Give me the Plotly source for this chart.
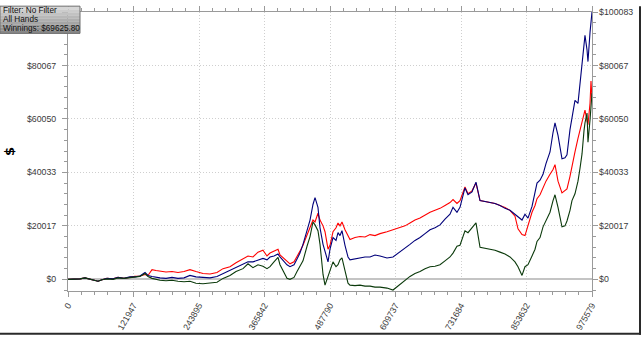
import plotly.graph_objects as go

# Cumulative results by hand number
hands = [0, 13000, 22300, 31700, 41000, 50300, 55900, 63300, 72600, 83800,
         93100, 104300, 115400, 124700, 134000, 143400, 148900, 156400, 163800, 171300,
         182500, 193600, 204800, 216000, 227100, 238300, 251300, 264400, 277400, 288600,
         301600, 312800, 325800, 335100, 344400, 353700, 363000, 370500, 376100, 383500,
         391000, 394700, 400300, 407700, 413300, 420800, 426400, 431900, 437500, 445000,
         450600, 456100, 459900, 465400, 469200, 474800, 478500, 484100, 487800, 493400,
         499000, 502700, 506400, 510100, 515700, 521300, 525000, 534300, 543600, 553000,
         562300, 571600, 580900, 593900, 605100, 618100, 627400, 636700, 646000, 655400,
         664700, 674000, 683300, 692600, 701900, 711200, 716800, 724200, 729800, 735400,
         739100, 744700, 752200, 759600, 767100, 776400, 785700, 795000, 804300, 813600,
         822900, 832200, 837800, 845300, 850800, 856400, 863900, 869500, 873200, 878800,
         884400, 889900, 897400, 903000, 906700, 912300, 919700, 925300, 929000, 934600,
         938300, 943900, 949500, 953200, 957000, 960700, 962500, 966300, 968100, 971900,
         973700, 975579]

red_series = [0, 0, 180, 550, 0, -360, -730, -180, 360, 180,
              730, 360, 910, 1090, 1270, 1820, 1460, 3640, 3280, 3090,
              2730, 2910, 2550, 2910, 3640, 2910, 2180, 2000, 2550, 4000,
              4730, 6190, 7640, 8740, 8370, 10190, 10920, 8740, 9830, 10560,
              11280, 9100, 8010, 6920, 5820, 6550, 8370, 10560, 12740, 16380,
              19290, 22200, 21470, 24750, 22200, 20020, 17830, 11280, 12740, 17830,
              19290, 21110, 20020, 21470, 18560, 16010, 14920, 15650, 16010, 15830,
              16740, 16380, 17110, 17830, 18560, 19290, 20020, 21110, 22200, 22930,
              24020, 25110, 25840, 26570, 27660, 28750, 29840, 28390, 29480, 32390,
              34580, 32030, 33120, 36030, 29480, 29120, 28750, 28390, 27660, 26930,
              25840, 23660, 18920, 16740, 16380, 20020, 25110, 27660, 30210, 31660,
              34210, 36760, 39310, 41130, 42950, 36760, 32390, 33120, 33850, 38580,
              42580, 47680, 52780, 55690, 58600, 61510, 63330, 59330, 57870, 65880,
              74250, 67700]

blue_series = [0, 0, 180, 550, 0, -360, -730, -180, 360, 180,
               730, 360, 910, 910, 1270, 2550, 1460, 1090, 730, 550,
               360, 730, 360, 550, 1460, 910, 730, 550, 1090, 2180,
               3280, 4370, 5640, 6550, 6550, 7280, 7830, 7280, 8370, 8740,
               9460, 8370, 6920, 5460, 4730, 5460, 7640, 9830, 13100, 18560,
               22200, 28020, 30570, 26930, 19290, 13100, 10560, 6550, 11280, 15650,
               14560, 17470, 16380, 18200, 12740, 8370, 7280, 7640, 8010, 8370,
               8370, 9100, 8740, 8010, 8370, 10190, 11650, 13100, 14560, 15650,
               17110, 18560, 19290, 20380, 22570, 24380, 26930, 25110, 26930, 32030,
               34210, 31660, 32760, 36390, 29480, 29120, 28750, 28390, 27660, 26570,
               25840, 24380, 23660, 22200, 24380, 22930, 27300, 33120, 36030, 37120,
               39310, 43310, 47680, 54960, 58600, 53870, 45130, 45490, 46580, 56050,
               60420, 66970, 65880, 73160, 80430, 87710, 91350, 85890, 81520, 92440,
               96810, 100083]

green_series = [0, 0, 180, 550, 0, -360, -730, -180, 180, 0,
                550, 360, 730, 910, 1090, 2180, 1090, 360, 0, -360,
                -550, -360, -730, -910, -730, -1460, -1640, -1460, -1090, 360,
                1460, 2910, 4000, 5820, 4370, 5460, 4910, 4000, 4730, 6550,
                8190, 5460, 3280, 360, 0, 730, 2910, 4730, 6920, 12380,
                16010, 21470, 20380, 18200, 13100, 1820, -2180, 1090, 3640, 6550,
                4730, 5460, 7280, 8010, 3280, -1460, -2180, -2370, -2180, -2550,
                -2550, -2910, -2910, -3280, -4000, -1820, -360, 1090, 2180, 2910,
                4000, 4730, 4910, 5460, 6920, 8370, 9830, 12380, 12740, 16010,
                18200, 17470, 19290, 21110, 12010, 11650, 11280, 10920, 10190, 9460,
                8370, 6550, 4730, 1460, 4730, 5460, 8740, 11280, 14190, 15650,
                19650, 22200, 25110, 29480, 31660, 26930, 19650, 20020, 21840, 25840,
                29480, 32030, 36760, 41490, 46950, 55690, 58600, 62240, 51320, 59690,
                65880, 69625.80]

x_ticks = [0, 121947, 243895, 365842, 487790, 609737, 731684, 853632, 975579]
x_labels = [str(v) for v in x_ticks]
y_ticks = [0, 20016.6, 40033.2, 60049.8, 80066.4, 100083]
y_labels = ["$0", "$20017", "$40033", "$60050", "$80067", "$100083"]
# the top-left label sits under the info box
y_labels_left = y_labels[:-1] + [""]

info_lines = ["Filter: No Filter", "All Hands", "Winnings: $69625.80"]

Y_MIN, Y_MAX = -4367, 100083
X_MAX = 975579

W, H = 641, 338
L, R, T, B = 68, 49, 6, 45
PW, PH = W - L - R, H - T - B


def px(xp):
    return (xp - L) / PW


def py(yp):
    return (H - B - yp) / PH


fig = go.Figure()
for vals, color in [(red_series, "#ff0000"), (blue_series, "#00007a"), (green_series, "#0b3a0b")]:
    fig.add_trace(go.Scatter(x=hands, y=vals, mode="lines",
                             line=dict(color=color, width=1.1),
                             showlegend=False, hoverinfo="skip"))
# carrier for the right-hand axis
fig.add_trace(go.Scatter(x=[0], y=[0], yaxis="y2", mode="markers",
                         marker=dict(opacity=0), showlegend=False, hoverinfo="skip"))

tick_font = dict(family="Liberation Sans, Arial, sans-serif", size=8.8, color="#3a3a3a")
axis_col = "#9a9a9a"
grid_col = "#cfcfcf"

fig.update_layout(
    width=W, height=H,
    margin=dict(l=L, r=R, t=T, b=B),
    paper_bgcolor="white", plot_bgcolor="white",
    xaxis=dict(range=[0, X_MAX], tickmode="array", tickvals=x_ticks, ticktext=x_labels,
               tickangle=-60, tickfont=tick_font, showgrid=True, gridcolor=grid_col,
               griddash="1px,2px", gridwidth=1, zeroline=False, showline=True,
               linecolor=axis_col, mirror="ticks", ticks="outside", ticklen=5,
               tickcolor=axis_col,
               minor=dict(tick0=0, dtick=X_MAX / 40, ticks="outside", ticklen=3,
                          tickcolor=axis_col, showgrid=False)),
    yaxis=dict(range=[Y_MIN, Y_MAX], tickmode="array", tickvals=y_ticks,
               ticktext=y_labels_left,
               tickfont=tick_font, showgrid=True, gridcolor=grid_col, griddash="1px,2px",
               gridwidth=1, zeroline=True, zerolinecolor="#c4c4c4", zerolinewidth=2,
               showline=True, linecolor=axis_col, mirror="ticks", ticks="outside",
               ticklen=5, tickcolor=axis_col, ticklabelstandoff=4,
               minor=dict(tick0=0, dtick=Y_MAX / 25, ticks="outside", ticklen=3,
                          tickcolor=axis_col, showgrid=False)),
    yaxis2=dict(range=[Y_MIN, Y_MAX], overlaying="y", side="right", tickmode="array",
                tickvals=y_ticks, ticktext=y_labels, tickfont=tick_font,
                showgrid=False, zeroline=False, showline=False, ticks="",
                ticklabelstandoff=6),
)

# info box with a vertical grey gradient
shapes = []
box_x0, box_x1, box_y0, box_y1 = 0, 80, 0, 28
bands = 9
for i in range(bands):
    t = i / (bands - 1)
    c = int(214 - t * (214 - 136))
    shapes.append(dict(type="rect", xref="paper", yref="paper", layer="above",
                       x0=px(box_x0), x1=px(box_x1),
                       y0=py(box_y0 + (box_y1 - box_y0) * (i + 1) / bands),
                       y1=py(box_y0 + (box_y1 - box_y0) * i / bands),
                       fillcolor=f"rgb({c},{c},{c})", line=dict(width=0)))
shapes.append(dict(type="rect", xref="paper", yref="paper", layer="above",
                   x0=px(box_x0), x1=px(box_x1), y0=py(box_y1), y1=py(box_y0),
                   line=dict(color="#6e6e6e", width=1)))
# frame shadow on the right and bottom edges
shapes.append(dict(type="line", xref="paper", yref="paper", x0=px(640), x1=px(640),
                   y0=py(0), y1=py(338), line=dict(color="#2a2a2a", width=2)))
shapes.append(dict(type="line", xref="paper", yref="paper", x0=px(0), x1=px(641),
                   y0=py(337), y1=py(337), line=dict(color="#2a2a2a", width=2)))
fig.update_layout(shapes=shapes)

annotations = []
for i, line in enumerate(info_lines):
    annotations.append(dict(text=line, xref="paper", yref="paper", x=px(1.5),
                            y=py(4.4 + 9.2 * i), xanchor="left", yanchor="middle",
                            showarrow=False, borderpad=0,
                            font=dict(family="Liberation Sans, Arial, sans-serif",
                                      size=8.2, color="#101010")))
annotations.append(dict(text="<b>$</b>", xref="paper", yref="paper", x=px(10), y=py(150),
                        textangle=-90, showarrow=False, xanchor="center", yanchor="middle",
                        font=dict(family="DejaVu Sans, sans-serif", size=13, color="black")))
fig.update_layout(annotations=annotations)

fig.write_html("out.html")
